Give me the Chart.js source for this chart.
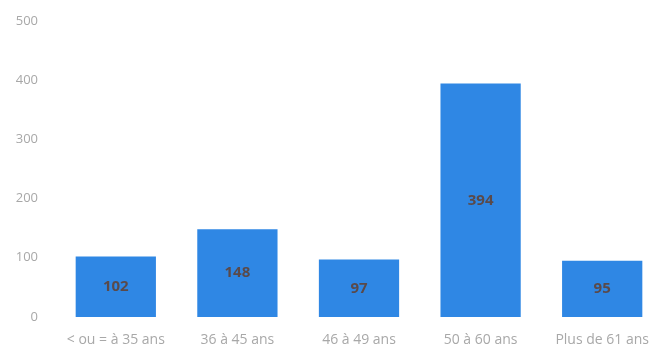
<!DOCTYPE html>
<html lang="fr">
<head>
    <meta charset="UTF-8">
    <title>Répartition par âge</title>
    <script src="https://cdn.jsdelivr.net/npm/chart.js@4.4.0/dist/chart.umd.min.js"></script>
    <style>
        html, body {
            margin: 0;
            padding: 0;
            background: #fff;
            overflow: hidden;
        }
        .chart-wrap {
            width: 664px;
            height: 356px;
            margin-top: -4px;
        }
    </style>
</head>
<body>
    <div class="chart-wrap">
        <canvas id="ageChart"></canvas>
    </div>
    <script>
        // Données du graphique
        const categories = ["< ou = à 35 ans", "36 à 45 ans", "46 à 49 ans", "50 à 60 ans", "Plus de 61 ans"];
        const effectifs = [102, 148, 97, 394, 95];
        const yTicks = [0, 100, 200, 300, 400, 500];

        // étiquettes au centre des barres
        const barLabels = {
            id: "barLabels",
            afterDatasetsDraw(chart) {
                const ctx = chart.ctx;
                const meta = chart.getDatasetMeta(0);
                ctx.save();
                ctx.font = "bold 15px 'Open Sans', sans-serif";
                ctx.fillStyle = "#5a4a4a";
                ctx.textAlign = "center";
                ctx.textBaseline = "middle";
                meta.data.forEach((bar, i) => {
                    const p = bar.getProps(["x", "y", "base"], true);
                    ctx.fillText(effectifs[i], p.x, (p.y + p.base) / 2);
                });
                ctx.restore();
            }
        };

        const ctx = document.getElementById("ageChart").getContext("2d");
        new Chart(ctx, {
            type: "bar",
            data: {
                labels: categories,
                datasets: [{
                    data: effectifs,
                    backgroundColor: "#2f87e4",
                    borderWidth: 0,
                    barPercentage: 0.66,
                    categoryPercentage: 1
                }]
            },
            options: {
                responsive: true,
                maintainAspectRatio: false,
                animation: false,
                layout: { padding: { top: 4, right: 0, left: 0, bottom: 0 } },
                plugins: {
                    legend: { display: false },
                    tooltip: { enabled: false }
                },
                scales: {
                    x: {
                        afterFit(scale) {
                            scale.height = 35;
                        },
                        grid: { display: false, drawTicks: false },
                        border: { display: false },
                        ticks: {
                            color: "#a8a8a8",
                            font: { family: "'Open Sans', sans-serif", size: 14 },
                            padding: 15,
                            maxRotation: 0,
                            autoSkip: false
                        }
                    },
                    y: {
                        min: 0,
                        max: 500,
                        afterBuildTicks(scale) {
                            scale.ticks = yTicks.map(v => ({ value: v }));
                        },
                        afterFit(scale) {
                            scale.width = 55;
                        },
                        grid: { display: false, drawTicks: false },
                        border: { display: false },
                        ticks: {
                            color: "#a8a8a8",
                            font: { family: "'Open Sans', sans-serif", size: 13 },
                            padding: 17
                        }
                    }
                }
            },
            plugins: [barLabels]
        });
    </script>
</body>
</html>
